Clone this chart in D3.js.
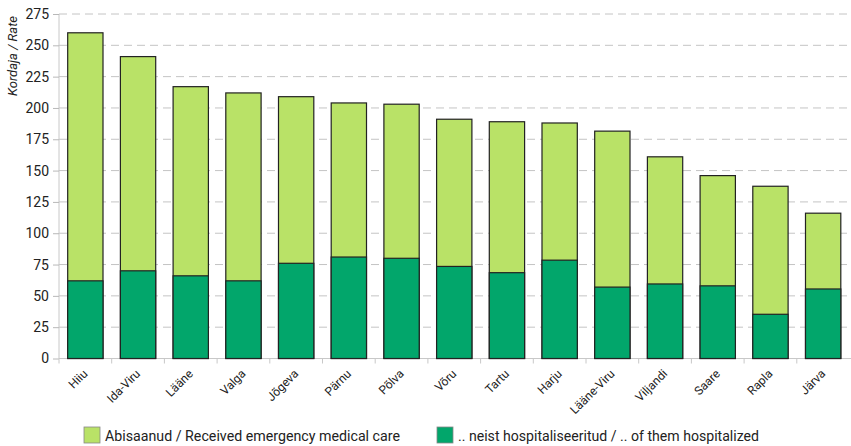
<!DOCTYPE html>
<html><head><meta charset="utf-8">
<script src="https://cdn.jsdelivr.net/npm/d3@7"></script>
<style>
body{margin:0;background:#fff}
svg{display:block}
text{font-family:"Roboto","Noto Sans",sans-serif;fill:#222}
</style></head><body>
<svg id="c" width="851" height="446"></svg>
<script>
const categories = ["Hiiu","Ida-Viru","Lääne","Valga","Jõgeva","Pärnu","Põlva","Võru","Tartu","Harju","Lääne-Viru","Viljandi","Saare","Rapla","Järva"];
const received = [260,241,217,212,209,204,203,191,189,188,181.5,161,146,137.5,116];
const hospitalized = [62,70,66,62,76,81,80,73.5,68.5,78.5,57,59.5,58,35.3,55.5];
const yTicks = [0,25,50,75,100,125,150,175,200,225,250,275];
const seriesNames = ["Abisaanud / Received emergency medical care",".. neist hospitaliseeritud / .. of them hospitalized"];
const colors = ["#b9e267","#02a66b"];

const svg = d3.select("#c");
const x = d3.scaleBand().domain(categories).range([59,849.5]).paddingInner(0.33).paddingOuter(0.165);
const y = d3.scaleLinear().domain([0,275]).range([358.5,14]);

// gridlines
svg.append("g").selectAll("line").data(yTicks.filter(d=>d>0)).join("line")
  .attr("x1",59).attr("x2",851).attr("y1",d=>y(d)).attr("y2",d=>y(d))
  .attr("stroke","#c4c4c4").attr("stroke-width",1).attr("stroke-dasharray","8,5");

// y axis
const ya = svg.append("g").attr("transform","translate(59,0)")
  .call(d3.axisLeft(y).tickValues(yTicks).tickSize(6).tickPadding(4));
ya.select(".domain").attr("stroke","#c8c8c8").attr("d","M0,"+y(275)+"V"+y(0));
ya.selectAll(".tick line").attr("stroke","#b8b8b8");
ya.selectAll("text").style("font-size","14px").style("font-family","Roboto").attr("fill","#222");

// x axis baseline and ticks
const xa = svg.append("g").attr("transform","translate(0,"+y(0)+")");
xa.append("line").attr("x1",59).attr("x2",851).attr("stroke","#c8c8c8");
const step = x.step();
xa.selectAll("line.t").data(d3.range(categories.length)).join("line").attr("class","t")
  .attr("x1",i=>59+i*step).attr("x2",i=>59+i*step).attr("y1",0).attr("y2",5).attr("stroke","#c8c8c8");

// bars
svg.append("g").selectAll("rect").data(categories).join("rect")
  .attr("x",d=>x(d)).attr("width",x.bandwidth())
  .attr("y",(d,i)=>y(received[i])).attr("height",(d,i)=>y(0)-y(received[i]))
  .attr("fill",colors[0]).attr("stroke","#222").attr("stroke-width",1.2);
svg.append("g").selectAll("rect").data(categories).join("rect")
  .attr("x",d=>x(d)).attr("width",x.bandwidth())
  .attr("y",(d,i)=>y(hospitalized[i])).attr("height",(d,i)=>y(0)-y(hospitalized[i]))
  .attr("fill",colors[1]).attr("stroke","#222").attr("stroke-width",1.2);

// x labels
svg.append("g").selectAll("text").data(categories).join("text")
  .attr("transform",d=>"translate("+(x(d)+x.bandwidth()/2+3)+","+(y(0)+16)+") rotate(-45)")
  .attr("text-anchor","end").style("font-size","12px").text(d=>d);

// y label
svg.append("text").attr("transform","translate(17,56) rotate(-90)")
  .attr("text-anchor","middle").style("font-size","13px").style("font-style","italic").text("Kordaja / Rate");

// legend
const lx = [84,437];
const tl = [295,301];
const lg = svg.append("g").selectAll("g").data(seriesNames).join("g")
  .attr("transform",(d,i)=>"translate("+lx[i]+",427)");
lg.append("rect").attr("width",16).attr("height",16).attr("fill",(d,i)=>colors[i]).attr("stroke","#888").attr("stroke-width",0.8);
lg.append("text").attr("x",21).attr("y",14).style("font-size","15px")
  .attr("textLength",(d,i)=>tl[i]).attr("lengthAdjust","spacingAndGlyphs").text(d=>d);
</script></body></html>
